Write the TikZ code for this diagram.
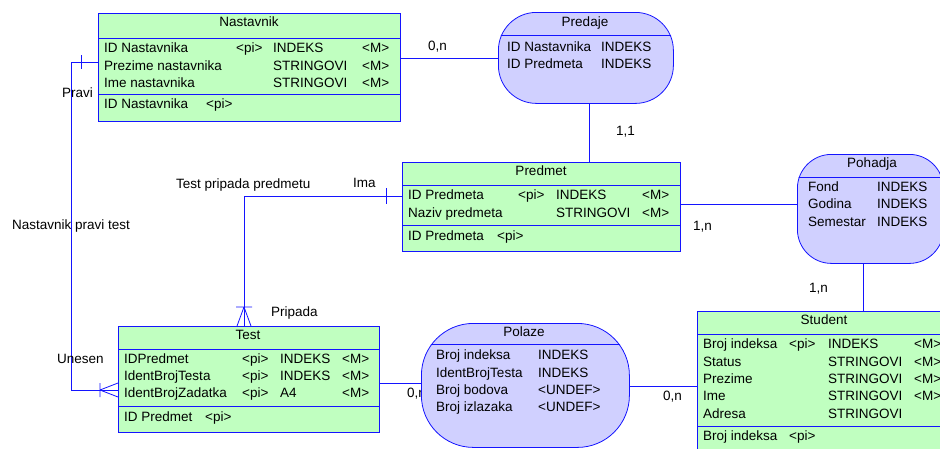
\documentclass[tikz,border=0pt]{standalone}
\usepackage{fontspec}
\setmainfont{Liberation Sans}
\usepackage{tikz}

\definecolor{entgreen}{RGB}{192,255,192}
\definecolor{assocblue}{RGB}{208,208,255}
\definecolor{erblue}{RGB}{20,20,255}

\tikzset{
  entity/.style={draw=erblue, fill=entgreen, line width=0.8pt, anchor=north west, inner sep=0pt},
  assoc/.style={draw=erblue, fill=assocblue, line width=0.8pt, anchor=north west, inner sep=0pt},
  link/.style={draw=erblue, line width=0.8pt},
  attr/.style={anchor=base west, inner sep=0pt},
  title/.style={anchor=base, inner sep=0pt},
  lab/.style={anchor=base west, inner sep=0pt},
}

\begin{document}
\begin{tikzpicture}[x=1pt,y=-1pt,font=\fontsize{13.5}{15}\selectfont]
\useasboundingbox (0,0) rectangle (940,448);
\clip (0,0) rectangle (940,448);

% label partly hidden under Polaze
\node[lab] (lab-tp) at (407,397) {0,n};

% entity Nastavnik
\node[entity, minimum width=302pt, minimum height=108pt] (nast) at (98,13) {};
\begin{scope}[shift={(98,13)}]
\draw[link] (0,25) -- (302,25);
\draw[link] (0,81) -- (302,81);
\node[title] (nast-t) at (151,13) {Nastavnik};
\foreach \y/\a/\b/\c/\d [count=\i] in {39/ID Nastavnika/<pi>/INDEKS/<M>,57/Prezime nastavnika//STRINGOVI/<M>,74/Ime nastavnika//STRINGOVI/<M>} {
  \node[attr] (nast-\i a) at (6,\y) {\a};
  \node[attr] (nast-\i b) at (138,\y) {\b};
  \node[attr] (nast-\i c) at (175,\y) {\c};
  \node[attr] (nast-\i d) at (264,\y) {\d};
}
\node[attr] (nast-ka) at (6,95) {ID Nastavnika};
\node[attr] (nast-kb) at (108,95) {<pi>};
\end{scope}

% entity Predmet
\node[entity, minimum width=278pt, minimum height=89pt] (predmet) at (402,162) {};
\begin{scope}[shift={(402,162)}]
\draw[link] (0,23) -- (278,23);
\draw[link] (0,63) -- (278,63);
\node[title] (predmet-t) at (139,13) {Predmet};
\foreach \y/\a/\b/\c/\d [count=\i] in {37/ID Predmeta/<pi>/INDEKS/<M>,55/Naziv predmeta//STRINGOVI/<M>} {
  \node[attr] (predmet-\i a) at (6,\y) {\a};
  \node[attr] (predmet-\i b) at (116,\y) {\b};
  \node[attr] (predmet-\i c) at (154,\y) {\c};
  \node[attr] (predmet-\i d) at (240,\y) {\d};
}
\node[attr] (predmet-ka) at (6,78) {ID Predmeta};
\node[attr] (predmet-kb) at (95,78) {<pi>};
\end{scope}

% entity Test
\node[entity, minimum width=261pt, minimum height=106pt] (test) at (118,326) {};
\begin{scope}[shift={(118,326)}]
\draw[link] (0,23) -- (261,23);
\draw[link] (0,80) -- (261,80);
\node[title] (test-t) at (130,13) {Test};
\foreach \y/\a/\b/\c/\d [count=\i] in {37/IDPredmet/<pi>/INDEKS/<M>,54/IdentBrojTesta/<pi>/INDEKS/<M>,71/IdentBrojZadatka/<pi>/A4/<M>} {
  \node[attr] (test-\i a) at (6,\y) {\a};
  \node[attr] (test-\i b) at (124,\y) {\b};
  \node[attr] (test-\i c) at (162,\y) {\c};
  \node[attr] (test-\i d) at (224,\y) {\d};
}
\node[attr] (test-ka) at (6,95) {ID Predmet};
\node[attr] (test-kb) at (87,95) {<pi>};
\end{scope}

% entity Student
\node[entity, minimum width=254pt, minimum height=150pt] (student) at (697,311) {};
\begin{scope}[shift={(697,311)}]
\draw[link] (0,23) -- (254,23);
\draw[link] (0,115) -- (254,115);
\node[title] (student-t) at (127,13) {Student};
\foreach \y/\a/\b/\c/\d [count=\i] in {37/Broj indeksa/<pi>/INDEKS/<M>,55/Status//STRINGOVI/<M>,72/Prezime//STRINGOVI/<M>,89/Ime//STRINGOVI/<M>,107/Adresa//STRINGOVI/} {
  \node[attr] (student-\i a) at (6,\y) {\a};
  \node[attr] (student-\i b) at (92,\y) {\b};
  \node[attr] (student-\i c) at (131,\y) {\c};
  \node[attr] (student-\i d) at (217,\y) {\d};
}
\node[attr] (student-ka) at (6,129) {Broj indeksa};
\node[attr] (student-kb) at (92,129) {<pi>};
\end{scope}

% association Predaje
\node[assoc, rounded corners=38pt, minimum width=175pt, minimum height=91pt] (predaje) at (498,12) {};
\begin{scope}
\clip[rounded corners=38pt] (predaje.north west) rectangle (predaje.south east);
\draw[link] ([yshift=-23pt]predaje.north west) -- ([yshift=-23pt]predaje.north east);
\end{scope}
\begin{scope}[shift={(498,12)}]
\node[title] (predaje-t) at (87,14) {Predaje};
\foreach \y/\a/\b [count=\i] in {39/ID Nastavnika/INDEKS,56/ID Predmeta/INDEKS} {
  \node[attr] (predaje-\i a) at (9,\y) {\a};
  \node[attr] (predaje-\i b) at (103,\y) {\b};
}
\end{scope}

% association Pohadja
\node[assoc, rounded corners=34pt, minimum width=146pt, minimum height=109pt] (pohadja) at (797,154) {};
\begin{scope}
\clip[rounded corners=34pt] (pohadja.north west) rectangle (pohadja.south east);
\draw[link] ([yshift=-23pt]pohadja.north west) -- ([yshift=-23pt]pohadja.north east);
\end{scope}
\begin{scope}[shift={(797,154)}]
\node[title] (pohadja-t) at (75,13) {Pohadja};
\foreach \y/\a/\b [count=\i] in {37/Fond/INDEKS,54/Godina/INDEKS,72/Semestar/INDEKS} {
  \node[attr] (pohadja-\i a) at (11,\y) {\a};
  \node[attr] (pohadja-\i b) at (80,\y) {\b};
}
\end{scope}

% association Polaze
\node[assoc, rounded corners=52pt, minimum width=208pt, minimum height=124pt] (polaze) at (421,323) {};
\begin{scope}
\clip[rounded corners=52pt] (polaze.north west) rectangle (polaze.south east);
\draw[link] ([yshift=-21pt]polaze.north west) -- ([yshift=-21pt]polaze.north east);
\end{scope}
\begin{scope}[shift={(421,323)}]
\node[title] (polaze-t) at (103,13) {Polaze};
\foreach \y/\a/\b [count=\i] in {36/Broj indeksa/INDEKS,54/IdentBrojTesta/INDEKS,71/Broj bodova/<UNDEF>,88/Broj izlazaka/<UNDEF>} {
  \node[attr] (polaze-\i a) at (15,\y) {\a};
  \node[attr] (polaze-\i b) at (117,\y) {\b};
}
\end{scope}

% connectors of the associations
\draw[link] (nast.east |- 0,58) -- (predaje.west |- 0,58);
\draw[link] (predaje.south -| 589,0) -- (predmet.north -| 589,0);
\draw[link] (predmet.east |- 0,204) -- (pohadja.west |- 0,204);
\draw[link] (pohadja.south -| 863,0) -- (student.north -| 863,0);
\draw[link] (test.east |- 0,383) -- (polaze.west |- 0,383);
\draw[link] (polaze.east |- 0,386) -- (student.west |- 0,386);
\node[lab] (lab-np) at (428,50) {0,n};
\node[lab] (lab-pp) at (616,135) {1,1};
\node[lab] (lab-mp) at (693,230) {1,n};
\node[lab] (lab-ps) at (809,292) {1,n};
\node[lab] (lab-ls) at (663,400) {0,n};

% reference Test -> Predmet
\coordinate (ima) at (244,196);
\coordinate (imaFoot) at (244,307);
\draw[link] (predmet.west |- ima) -- (ima) -- (test.north -| ima);
\draw[link] (386,188) -- (386,204);
\draw[link] (imaFoot) -- (test.north -| 237,0) (imaFoot) -- (test.north -| 251,0) (236,307) -- (252,307);
\node[lab] (lab-tpp) at (176,188) {Test pripada predmetu};
\node[lab] (lab-ima) at (353,187) {Ima};
\node[lab] (lab-prip) at (271,316) {Pripada};

% reference Test -> Nastavnik
\coordinate (pravi) at (71,62);
\coordinate (unesen) at (71,390);
\coordinate (unesenFoot) at (100,390);
\draw[link] (nast.west |- pravi) -- (pravi) -- (unesen) -- (test.west |- unesen);
\draw[link] (81,55) -- (81,69);
\draw[link] (unesenFoot) -- (test.west |- 0,383) (unesenFoot) -- (test.west |- 0,397) (100,383) -- (100,397);
\node[lab] (lab-pravi) at (62,97) {Pravi};
\node[lab] (lab-npt) at (12,229) {Nastavnik pravi test};
\node[lab] (lab-un) at (57,363) {Unesen};
\end{tikzpicture}
\end{document}
